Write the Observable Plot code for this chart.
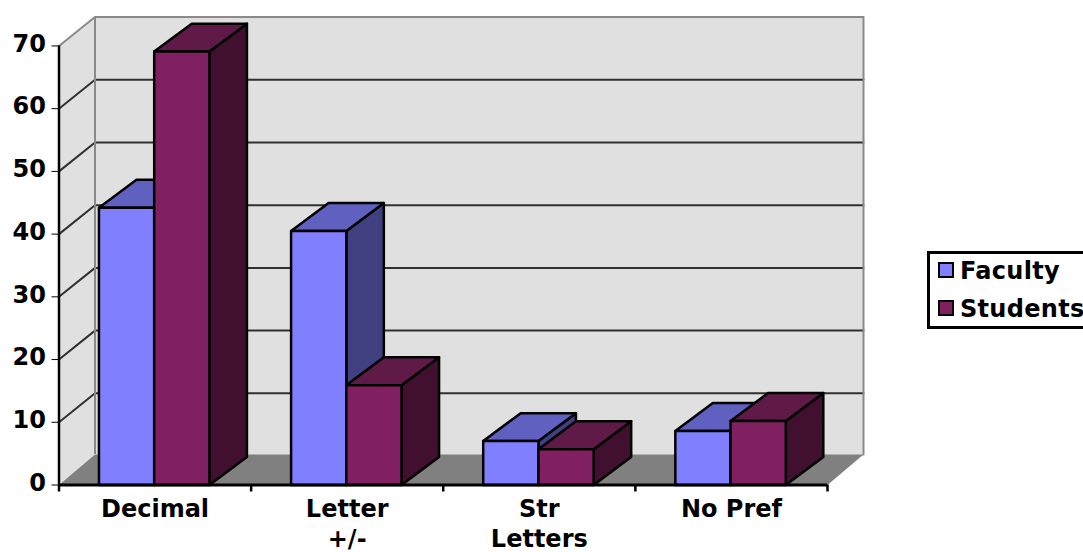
<!DOCTYPE html>
<html><head><meta charset="utf-8">
<script src="https://cdn.jsdelivr.net/npm/d3@7"></script>
<script src="https://cdn.jsdelivr.net/npm/@observablehq/plot@0.6"></script>
<style>
html,body{margin:0;padding:0;background:#fff;width:1083px;height:552px;overflow:hidden}
#chart{position:relative;width:1083px;height:552px}
#legend{position:absolute;left:927px;top:251px;width:156px;height:78px;box-sizing:border-box;border:3px solid #000;border-right:none;background:#fff;font:bold 24px "DejaVu Sans",sans-serif;letter-spacing:.3px;color:#000;white-space:nowrap}
#legend div{position:absolute;left:30px;line-height:26px}
#legend i{position:absolute;left:-22px;top:4px;width:12px;height:12px;border:2.5px solid #000;display:block}
</style></head><body><div id="chart"></div>
<script>
const categories = ["Decimal", "Letter\n+/-", "Str\nLetters", "No Pref"];
const faculty = [44.2, 40.5, 7, 8.6];
const students = [69.1, 15.9, 5.7, 10.2];
const yTicks = [0, 10, 20, 30, 40, 50, 60, 70];
const seriesNames = ["Faculty", "Students"];
const frontColors = ["#8080ff", "#802060"];
const topColors = ["#6060c0", "#601a48"];
const sideColors = ["#404080", "#40102e"];

// projection depth, expressed in data units
const pxX = 192.1, pxY = 6.28;
const wallDX = 36 / pxX, wallDY = 29 / pxY, floorDY = 30.5 / pxY;
const barDX = 37.5 / pxX, barDY = 28 / pxY;
const xFront = categories.length;
const yTop = d3.max(yTicks);
const barStart = 0.208, barWidth = 0.2875;

const polys = [];
function poly(id, color, pts){ pts.forEach(([x,y]) => polys.push({id, color, x, y})); }
categories.forEach((c, i) => {
  [faculty[i], students[i]].forEach((v, s) => {
    const x0 = i + barStart + s * barWidth, x1 = x0 + barWidth, id = `${i}-${s}`;
    poly(id+"side", sideColors[s], [[x1,0],[x1,v],[x1+barDX,v+barDY],[x1+barDX,barDY]]);
    poly(id+"top", topColors[s], [[x0,v],[x0+barDX,v+barDY],[x1+barDX,v+barDY],[x1,v]]);
    poly(id+"front", frontColors[s], [[x0,0],[x0,v],[x1,v],[x1,0]]);
  });
});

const walls = [];
const wpoly = (id,color,pts) => pts.forEach(([x,y]) => walls.push({id,color,x,y}));
wpoly("left","#e0e0e0",[[0,0],[0,yTop],[wallDX,yTop+wallDY],[wallDX,wallDY]]);
wpoly("back","#e0e0e0",[[wallDX,wallDY],[wallDX,yTop+wallDY],[xFront+wallDX,yTop+wallDY],[xFront+wallDX,wallDY]]);
wpoly("floor","#808080",[[0,0],[wallDX,floorDY],[xFront+wallDX,floorDY],[xFront,0]]);

const grid = [];
yTicks.filter(v => v > 0 && v < yTop).forEach(v => {
  grid.push({v, x:0, y:v}, {v, x:wallDX, y:v+wallDY}, {v, x:xFront+wallDX, y:v+wallDY});
});
const edge = [
  {x:0,y:yTop},{x:wallDX,y:yTop+wallDY},{x:xFront+wallDX,y:yTop+wallDY},{x:xFront+wallDX,y:floorDY}
];
const font = '"DejaVu Sans",sans-serif';

const plot = Plot.plot({
  width:1083, height:552,
  marginLeft:58.5, marginRight:220, marginTop:16.5, marginBottom:67.5,
  style:{background:"transparent", fontFamily:font},
  x:{domain:[0, xFront+wallDX], range:[58.5, 863]},
  y:{domain:[0, yTop+wallDY], range:[484.5, 16.5]},
  color:{type:"identity"},
  marks:[
    Plot.line(walls,{x:"x",y:"y",z:"id",fill:"color",stroke:"none",curve:"linear-closed"}),
    Plot.line(grid,{x:"x",y:"y",z:"v",stroke:"#303030",strokeWidth:2}),
    Plot.line(edge,{x:"x",y:"y",stroke:"#8a8a8a",strokeWidth:2}),
    Plot.ruleX([wallDX],{y1:floorDY,y2:yTop+wallDY,stroke:"#8a8a8a",strokeWidth:2}),
    Plot.line(polys,{x:"x",y:"y",z:"id",fill:"color",stroke:"#000",strokeWidth:2.5,curve:"linear-closed"}),
    Plot.ruleX([0],{y1:0,y2:yTop,stroke:"#000",strokeWidth:2.5}),
    Plot.ruleY([0],{x1:0,x2:xFront,stroke:"#000",strokeWidth:3}),
    Plot.axisY({anchor:"left",ticks:yTicks,label:null,tickSize:7,marker:null,tickPadding:0,tickFormat:null,text:null}),
    Plot.text(yTicks,{x:()=>0,y:d=>d,text:d=>String(d),textAnchor:"end",dx:-13,dy:-2,fontSize:24,fontWeight:"bold",fill:"#000",style:{letterSpacing:"0.5px"}}),
    Plot.axisX({anchor:"bottom",ticks:d3.range(categories.length+1),label:null,tickSize:7,tickFormat:()=>"",stroke:"#000",strokeWidth:2.5}),
    Plot.text(categories,{x:(d,i)=>i+0.5,y:()=>0,text:d=>d,dy:11,lineAnchor:"top",lineHeight:1.24,fontSize:24,fontWeight:"bold",fill:"#000",style:{letterSpacing:"0.6px"}})
  ]
});
const root = document.getElementById("chart");
root.appendChild(plot);
const leg = document.createElement("div");
leg.id = "legend";
seriesNames.forEach((n,i) => {
  const row = document.createElement("div");
  row.style.top = (4 + i*38) + "px";
  row.textContent = n;
  const sw = document.createElement("i");
  sw.style.background = frontColors[i];
  row.appendChild(sw);
  leg.appendChild(row);
});
root.appendChild(leg);
</script></body></html>
